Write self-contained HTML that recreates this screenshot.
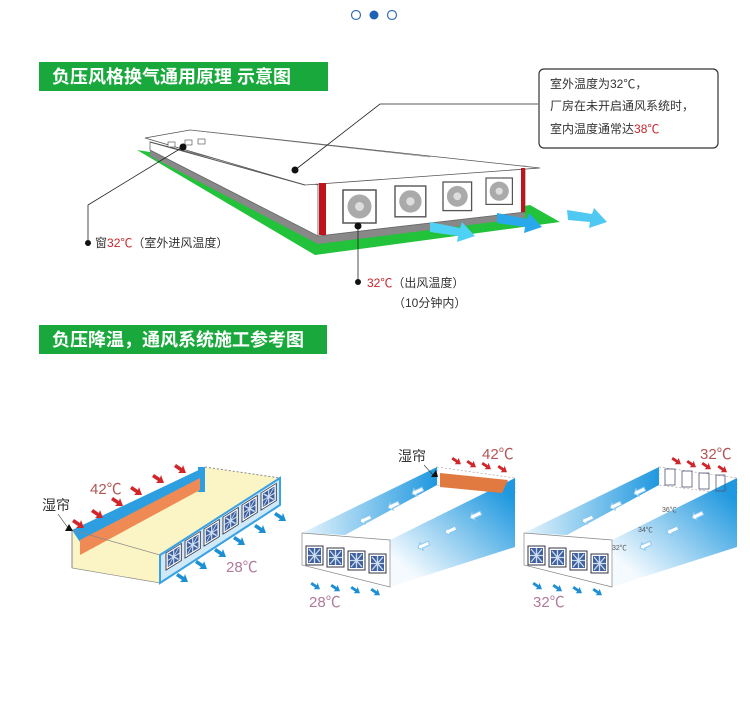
<!DOCTYPE html>
<html><head><meta charset="utf-8"><style>
body{margin:0;background:#fff;}
svg{display:block;font-family:"Liberation Sans","Noto Sans CJK SC",sans-serif;}
</style></head><body>
<svg width="750" height="720" viewBox="0 0 750 720" xmlns="http://www.w3.org/2000/svg">
<defs>
<linearGradient id="bl" x1="0" y1="0" x2="1" y2="0"><stop offset="0" stop-color="#e6f4fc"/><stop offset="1" stop-color="#1f98df"/></linearGradient>
<linearGradient id="bl2" x1="0" y1="1" x2="1" y2="0"><stop offset="0.15" stop-color="#f4fafe"/><stop offset="0.9" stop-color="#1f98df"/></linearGradient>
<g id="fan"><rect x="0" y="0" width="17" height="19" fill="#fff" stroke="#334"/><rect x="2" y="2" width="13" height="15" fill="#3f5f9f"/><path d="M3 3L14 16M14 3L3 16M8.5 2V17M2 9.5H15" stroke="#cde" stroke-width="1.3"/></g>
<g id="bfan"><rect x="0" y="0" width="22" height="22" fill="#fff" stroke="#555"/><circle cx="11" cy="11" r="8" fill="#aaa"/><circle cx="11" cy="11" r="3" fill="#ddd"/></g>
<g id="ra"><path d="M0 0l6 4 1-3 3 8-8 0 2-2-6-4z" fill="#d0262a"/></g>
<g id="ba"><path d="M0 0l6 4 1-3 3 8-8 0 2-2-6-4z" fill="#1e8fd5"/></g>
<g id="la"><path d="M0 0l4-4v2h8v4h-8v2z" fill="#fff" stroke="#8cc8ee" stroke-width="1" transform="rotate(-25)"/></g>
<g id="box">
<polygon points="302,533 437,467 515,478 390,540" fill="#fff"/>
<polygon points="302,533 437,467 437,485 345,535" fill="url(#bl)"/>
<polygon points="437,467 515,478 515,495 437,485" fill="#fff" stroke="#999" stroke-width="0.6" stroke-dasharray="2,2"/>
<polygon points="390,540 515,478 515,547 390,587" fill="url(#bl2)"/>
<polygon points="302,533 390,540 390,587 302,565" fill="#fff" stroke="#888" stroke-width="0.7"/>
<use href="#fan" transform="translate(306,546)"/><use href="#fan" transform="translate(327,548)"/><use href="#fan" transform="translate(348,551)"/><use href="#fan" transform="translate(369,554)"/>
<use href="#ba" transform="translate(312,582) scale(0.8)"/><use href="#ba" transform="translate(332,584) scale(0.8)"/><use href="#ba" transform="translate(352,586) scale(0.8)"/><use href="#ba" transform="translate(372,588) scale(0.8)"/>
<use href="#la" transform="translate(360,522)"/><use href="#la" transform="translate(388,508)"/><use href="#la" transform="translate(412,494)"/>
<use href="#la" transform="translate(418,548)"/><use href="#la" transform="translate(445,533)"/><use href="#la" transform="translate(470,518)"/>
</g>
</defs>
<circle cx="356" cy="15" r="4.5" fill="none" stroke="#3a6fb5" stroke-width="1.2"/>
<circle cx="374" cy="15" r="4.5" fill="#1f62b5"/>
<circle cx="392" cy="15" r="4.5" fill="none" stroke="#3a6fb5" stroke-width="1.2"/>

<rect x="39" y="62" width="289" height="29" fill="#19a83c"/>
<text x="52" y="83" font-size="18" font-weight="bold" fill="#fff">负压风格换气通用原理 示意图</text>

<polygon points="137,150 315,255 560,222 530,205 320,240 150,152" fill="#22c23a"/>
<polygon points="150,150 318,236 318,244 150,156" fill="#888"/>
<polygon points="318,236 525,212 525,218 318,244" fill="#888"/>
<polygon points="150,142 318,185 318,236 150,150" fill="#fff" stroke="#666" stroke-width="0.8"/>
<polygon points="318,183 525,166 525,212 318,236" fill="#fff" stroke="#666" stroke-width="0.8"/>
<polygon points="145,138 190,130 540,168 305,185" fill="#fff" stroke="#555" stroke-width="0.8"/>
<line x1="190" y1="130" x2="430" y2="157" stroke="#777" stroke-width="0.6"/>
<line x1="150" y1="142" x2="305" y2="185" stroke="#555"/>
<rect x="319" y="183" width="7" height="52" fill="#c0141c"/>
<rect x="521" y="168" width="4" height="44" fill="#c0141c"/>
<rect x="168" y="142" width="7" height="5" fill="#fff" stroke="#444" stroke-width="0.6"/>
<rect x="185" y="140" width="7" height="5" fill="#fff" stroke="#444" stroke-width="0.6"/>
<rect x="198" y="139" width="7" height="5" fill="#fff" stroke="#444" stroke-width="0.6"/>
<use href="#bfan" transform="translate(343,190) scale(1.5)"/>
<use href="#bfan" transform="translate(395,186) scale(1.4)"/>
<use href="#bfan" transform="translate(443,182) scale(1.3)"/>
<use href="#bfan" transform="translate(486,178) scale(1.2)"/>
<path d="M430 222l30 6 2-6 13 14-18 6 1-6-28-4z" fill="#4fd0f5"/>
<path d="M497 213l30 6 2-6 13 14-18 6 1-6-28-4z" fill="#2aa8ec"/>
<path d="M567 210l25 4 2-6 13 14-18 6 1-6-22-2z" fill="#4fc8f2"/>
<polyline points="538,104 380,104 295,170" fill="none" stroke="#222" stroke-width="0.8"/>
<circle cx="295" cy="170" r="3.5" fill="#111"/>
<polyline points="183,147 88,205 88,243" fill="none" stroke="#222" stroke-width="0.8"/>
<circle cx="183" cy="147" r="3.5" fill="#111"/>
<circle cx="88" cy="243" r="3" fill="#111"/>
<line x1="358" y1="226" x2="358" y2="282" stroke="#222" stroke-width="0.8"/>
<circle cx="358" cy="226" r="3.5" fill="#111"/>
<circle cx="358" cy="282" r="3" fill="#111"/>
<text x="95" y="247" font-size="12" fill="#333">窗<tspan fill="#c8242c">32℃</tspan>（室外进风温度）</text>
<text x="367" y="287" font-size="12" fill="#333"><tspan fill="#c8242c">32℃</tspan>（出风温度）</text>
<text x="393" y="307" font-size="12" fill="#333">（10分钟内）</text>
<rect x="539" y="69" width="179" height="79" rx="5" fill="#fff" stroke="#333" stroke-width="1.2"/>
<text x="550" y="88" font-size="12" fill="#333">室外温度为32℃，</text>
<text x="550" y="110" font-size="12" fill="#333">厂房在未开启通风系统时，</text>
<text x="550" y="133" font-size="12" fill="#333">室内温度通常达<tspan fill="#c8242c">38℃</tspan></text>

<rect x="39" y="325" width="288" height="29" fill="#19a83c"/>
<text x="52" y="346" font-size="18" font-weight="bold" fill="#fff">负压降温，通风系统施工参考图</text>

<!-- box 1 -->
<polygon points="72,530 205,467 280,478 160,555 160,583 72,568" fill="#fbf4c4"/>
<polygon points="72,530 205,467 205,480 80,542" fill="#2d9fe1"/>
<polygon points="198,467 205,467 205,492 198,492" fill="#2d9fe1"/>
<polygon points="80,540 200,478 200,490 80,555" fill="#f08a55"/>
<polygon points="72,530 160,555 160,583 72,568" fill="none" stroke="#888" stroke-width="0.7"/>
<line x1="72" y1="530" x2="72" y2="568" stroke="#888"/>
<polygon points="160,555 280,478 280,505 160,583" fill="#cfe9f8" stroke="#3aa2e2" stroke-width="2"/>
<line x1="205" y1="467" x2="280" y2="478" stroke="#888" stroke-dasharray="2,2"/>
<use href="#fan" transform="translate(166,553) skewY(-32) scale(0.9)"/>
<use href="#fan" transform="translate(185,541) skewY(-32) scale(0.9)"/>
<use href="#fan" transform="translate(204,529) skewY(-32) scale(0.9)"/>
<use href="#fan" transform="translate(223,517) skewY(-32) scale(0.9)"/>
<use href="#fan" transform="translate(242,505) skewY(-32) scale(0.9)"/>
<use href="#fan" transform="translate(261,493) skewY(-32) scale(0.9)"/>
<use href="#ra" transform="translate(74,519)"/><use href="#ra" transform="translate(93,509)"/><use href="#ra" transform="translate(113,497)"/><use href="#ra" transform="translate(132,486)"/><use href="#ra" transform="translate(154,474)"/><use href="#ra" transform="translate(176,464)"/>
<use href="#ba" transform="translate(178,573)"/><use href="#ba" transform="translate(197,560)"/><use href="#ba" transform="translate(216,548)"/><use href="#ba" transform="translate(235,536)"/><use href="#ba" transform="translate(256,524)"/><use href="#ba" transform="translate(276,512)"/>
<text x="90" y="494" font-size="15" fill="#b35555">42℃</text>
<text x="42" y="510" font-size="14" fill="#333">湿帘</text>
<path d="M58 514L68 528" stroke="#333" stroke-width="0.6"/><path d="M65 531l8 0-4-7z" fill="#111"/>
<text x="226" y="572" font-size="15" fill="#b07a9a">28℃</text>

<!-- box 2 -->
<use href="#box"/>
<polygon points="440,473 508,480 502,493 440,487" fill="#e07a40"/>
<use href="#ra" transform="translate(453,457) scale(0.8)"/><use href="#ra" transform="translate(468,460) scale(0.8)"/><use href="#ra" transform="translate(483,462) scale(0.8)"/><use href="#ra" transform="translate(499,465) scale(0.8)"/>
<text x="482" y="459" font-size="15" fill="#b35555">42℃</text>
<text x="398" y="461" font-size="14" fill="#333">湿帘</text>
<path d="M424 465L434 476" stroke="#333" stroke-width="0.6"/><path d="M431 477l7 0-2-7z" fill="#111"/>
<text x="309" y="607" font-size="15" fill="#b07a9a">28℃</text>

<!-- box 3 -->
<use href="#box" transform="translate(222,0)"/>
<rect x="665" y="469" width="10" height="16" fill="none" stroke="#557" stroke-width="0.8"/><rect x="682" y="471" width="10" height="16" fill="none" stroke="#557" stroke-width="0.8"/><rect x="699" y="473" width="10" height="16" fill="none" stroke="#557" stroke-width="0.8"/><rect x="716" y="475" width="9" height="16" fill="none" stroke="#557" stroke-width="0.8"/>
<use href="#ra" transform="translate(673,457) scale(0.8)"/><use href="#ra" transform="translate(688,460) scale(0.8)"/><use href="#ra" transform="translate(703,462) scale(0.8)"/><use href="#ra" transform="translate(719,465) scale(0.8)"/>
<text x="700" y="459" font-size="15" fill="#b35555">32℃</text>
<text x="612" y="550" font-size="7" fill="#555">32℃</text><text x="638" y="532" font-size="7" fill="#555">34℃</text><text x="662" y="512" font-size="7" fill="#555">36℃</text>
<text x="533" y="607" font-size="15" fill="#b07a9a">32℃</text>
</svg>
</body></html>
